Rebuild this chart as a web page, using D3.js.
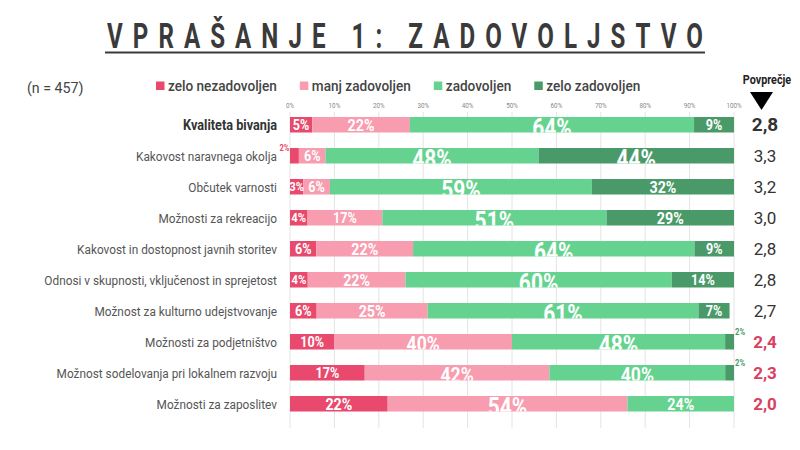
<!DOCTYPE html>
<html>
<head>
<meta charset="utf-8">
<script src="https://cdn.jsdelivr.net/npm/d3@7"></script>
<style>
  body { margin: 0; background: #fff; }
  text { font-family: Roboto, "Liberation Sans", sans-serif; }
</style>
</head>
<body>
<div id="chart"></div>
<script>
// data
const categories = [
  "Kvaliteta bivanja",
  "Kakovost naravnega okolja",
  "Občutek varnosti",
  "Možnosti za rekreacijo",
  "Kakovost in dostopnost javnih storitev",
  "Odnosi v skupnosti, vključenost in sprejetost",
  "Možnost za kulturno udejstvovanje",
  "Možnosti za podjetništvo",
  "Možnost sodelovanja pri lokalnem razvoju",
  "Možnosti za zaposlitev"
]
const seriesNames = ["zelo nezadovoljen", "manj zadovoljen", "zadovoljen", "zelo zadovoljen"]
const zeloNezadovoljen = [5, 2, 3, 4, 6, 4, 6, 10, 17, 22]
const manjZadovoljen   = [22, 6, 6, 17, 22, 22, 25, 40, 42, 54]
const zadovoljen       = [64, 48, 59, 51, 64, 60, 61, 48, 40, 24]
const zeloZadovoljen   = [9, 44, 32, 29, 9, 14, 7, 2, 2, 0]
const povprecje = ["2,8", "3,3", "3,2", "3,0", "2,8", "2,8", "2,7", "2,4", "2,3", "2,0"]
const lowRows = [7, 8, 9]   // averages shown in red
const ticks = [0, 10, 20, 30, 40, 50, 60, 70, 80, 90, 100]

const colors = ["#e8496c", "#f89cb0", "#65d38f", "#4a9a69"]
const redText = "#d8415f"

const svg = d3.select("#chart").append("svg")
  .attr("width", 800)
  .attr("height", 450)

// no condensed font installed, so squeeze text horizontally
let ctext = (parent, x, y, sx) => parent.append("text")
  .attr("transform", `translate(${x},${y}) scale(${sx},1)`)

// width of a sample at a given style, to get the squeeze factor
let measure = (str, size, weight) => {
  const t = svg.append("text")
    .style("font-size", size + "px").style("font-weight", weight).text(str)
  const w = t.node().getComputedTextLength()
  t.remove()
  return w
}
const sxCat = 200 / measure("Kakovost in dostopnost javnih storitev", 13.5, "normal")
const sxLeg = 109 / measure("zelo nezadovoljen", 15, 500)

// title
const sxTitle = 0.7
ctext(svg, 107, 48, sxTitle)
  .attr("textLength", 596 / sxTitle)
  .attr("lengthAdjust", "spacing")
  .style("font-size", "34.5px")
  .style("font-weight", "bold")
  .style("fill", "#3a3a3a")
  .text("VPRAŠANJE 1: ZADOVOLJSTVO")
svg.append("rect")
  .attr("x", 105).attr("y", 51.5)
  .attr("width", 600).attr("height", 2)
  .attr("fill", "#3a3a3a")

ctext(svg, 27, 93, 0.95)
  .style("font-size", "15px")
  .style("fill", "#444")
  .text("(n = 457)")

// legend
let lx = 156
seriesNames.forEach((name, i) => {
  svg.append("rect")
    .attr("x", lx).attr("y", 81.5)
    .attr("width", 8.5).attr("height", 8.5)
    .attr("fill", colors[i])
  const t = ctext(svg, lx + 12, 91, sxLeg)
    .style("font-size", "15px")
    .style("font-weight", 500)
    .style("fill", "#444")
    .text(name)
  lx += 12 + t.node().getComputedTextLength() * sxLeg + 23
})

ctext(svg, 767, 84, 0.8)
  .attr("text-anchor", "middle")
  .style("font-size", "13.5px")
  .style("font-weight", "bold")
  .style("fill", "#222")
  .text("Povprečje")
svg.append("path")
  .attr("d", "M750,92 L773,92 L761.5,110 Z")
  .attr("fill", "#000")

// scales
const x = d3.scaleLinear().domain([0, 100]).range([290, 734])
const y = d3.scaleBand().domain(categories)
  .range([109.25, 419.25])
  .paddingInner(0.5).paddingOuter(0.25)

// grid + tick labels
svg.append("g").selectAll("line")
  .data(ticks)
  .enter().append("line")
    .attr("x1", d => x(d)).attr("x2", d => x(d))
    .attr("y1", 112).attr("y2", 428)
    .style("stroke", "#e4e4e4")
    .style("stroke-width", 1)

svg.append("g").selectAll("text")
  .data(ticks)
  .enter().append("text")
    .attr("transform", d => `translate(${x(d)},108) scale(0.9,1)`)
    .attr("text-anchor", "middle")
    .style("font-size", "7px")
    .style("fill", "#888")
    .text(d => d + "%")

// stacked rows
const rows = categories.map((c, i) => ({
  cat: c,
  idx: i,
  vals: [zeloNezadovoljen[i], manjZadovoljen[i], zadovoljen[i], zeloZadovoljen[i]]
}))

const labelSize = d3.scaleThreshold()
  .domain([5, 20, 36, 43])
  .range([13.5, 15, 17, 21, 25])
const sxLab = 0.84

const defs = svg.append("defs")
rows.forEach(r => {
  defs.append("clipPath").attr("id", "clip" + r.idx)
    .append("rect")
      .attr("x", x(0)).attr("y", y(r.cat))
      .attr("width", x(100) - x(0) + 2).attr("height", y.bandwidth())
})

const gRows = svg.append("g").selectAll("g")
  .data(rows)
  .enter().append("g")

gRows.each(function (r) {
  const g = d3.select(this)
  const total = d3.sum(r.vals)
  const k = total > 100 ? 100 / total : 1
  let acc = 0
  const segs = r.vals.map((v, j) => {
    const s = { v: v, j: j, x0: acc * k, x1: (acc + v) * k }
    acc += v
    return s
  })
  const top = y(r.cat)
  const bw = y.bandwidth()

  g.selectAll("rect")
    .data(segs.filter(s => s.v > 0))
    .enter().append("rect")
      .attr("x", s => x(s.x0))
      .attr("y", top)
      .attr("width", s => x(s.x1) - x(s.x0))
      .attr("height", bw)
      .attr("fill", s => colors[s.j])

  const inner = g.append("g").attr("clip-path", `url(#clip${r.idx})`)
  inner.selectAll("text")
    .data(segs.filter(s => s.v >= 3))
    .enter().append("text")
      .attr("transform", s =>
        `translate(${x((s.x0 + s.x1) / 2)},${top + 2 + labelSize(s.v) * 0.71}) scale(${sxLab},1)`)
      .attr("text-anchor", "middle")
      .style("font-size", s => labelSize(s.v) + "px")
      .style("font-weight", "bold")
      .style("fill", "#fff")
      .text(s => s.v + "%")

  // tiny values written outside the bar
  segs.filter(s => s.v > 0 && s.v < 3).forEach(s => {
    const first = s.j === 0
    ctext(g, first ? x(s.x0) - 0.5 : x(s.x1) + 1, top + (first ? 2.5 : 1), 0.85)
      .attr("text-anchor", first ? "end" : "start")
      .style("font-size", "9px")
      .style("font-weight", "bold")
      .style("fill", colors[first ? 0 : 3])
      .text(s.v + "%")
  })

  // category label
  ctext(g, 277, top + bw / 2 + 5, sxCat)
    .attr("text-anchor", "end")
    .style("font-size", r.idx === 0 ? "14.5px" : "13.5px")
    .style("font-weight", r.idx === 0 ? "bold" : "normal")
    .style("fill", r.idx === 0 ? "#333" : "#555")
    .text(r.cat)

  // average
  const low = lowRows.includes(r.idx)
  g.append("text")
    .attr("x", 765)
    .attr("y", top + bw / 2 + 6.5)
    .attr("text-anchor", "middle")
    .style("font-size", r.idx === 0 ? "19px" : "17px")
    .style("font-weight", (r.idx === 0 || low) ? "bold" : "normal")
    .style("fill", low ? redText : "#333")
    .text(povprecje[r.idx])
})
</script>
</body>
</html>
